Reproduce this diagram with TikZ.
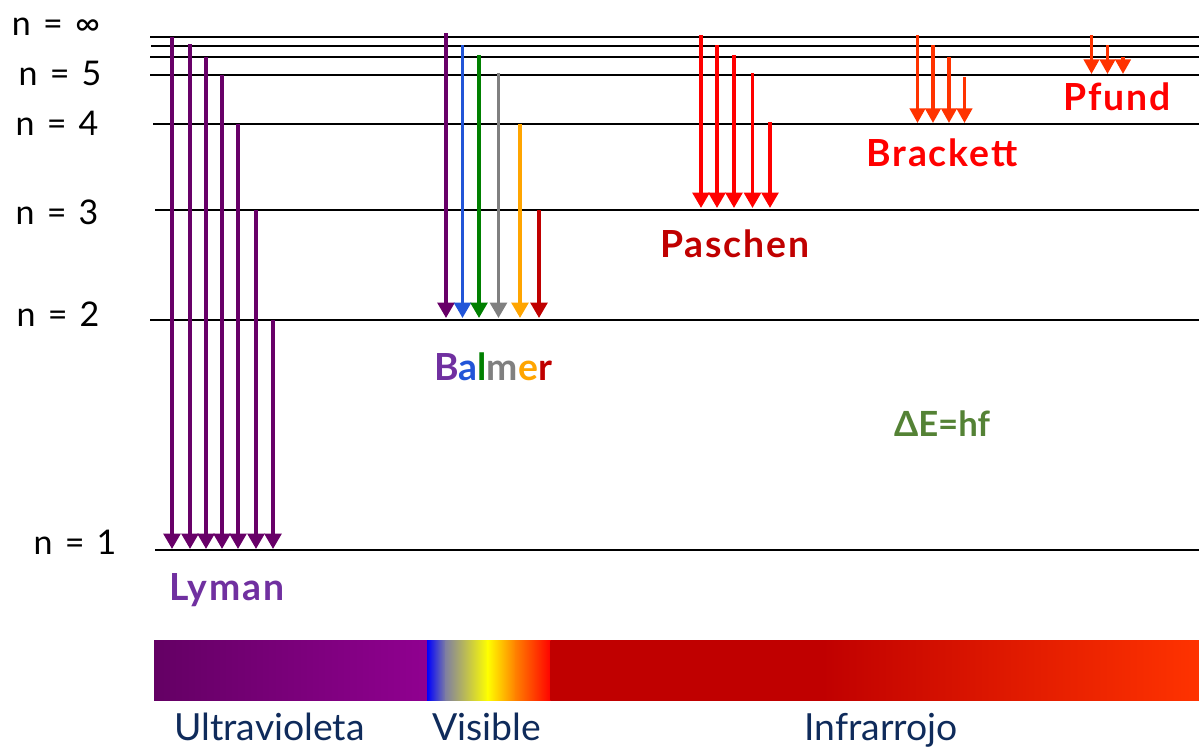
\documentclass[tikz,border=0pt]{standalone}
\usepackage{fontspec}
\setmainfont{Lato}
\usetikzlibrary{arrows.meta}
\definecolor{lym}{HTML}{680068}
\definecolor{lymtxt}{HTML}{7030A0}
\definecolor{bblue}{HTML}{2255D8}
\definecolor{bgreen}{HTML}{008000}
\definecolor{bgray}{HTML}{808080}
\definecolor{borange}{HTML}{FFA500}
\definecolor{bred}{HTML}{C00000}
\definecolor{pas}{HTML}{FF0000}
\definecolor{brk}{HTML}{FF3300}
\definecolor{dEcol}{HTML}{548235}
\definecolor{navy}{HTML}{0F2B5B}
\definecolor{uvA}{HTML}{640064}
\definecolor{uvB}{HTML}{900090}
\definecolor{irA}{HTML}{C00000}
\definecolor{irB}{HTML}{FF3300}
\definecolor{visgray}{HTML}{8080A0}
\pgfdeclarehorizontalshading{irshade}{100bp}{color(0bp)=(irA); color(46bp)=(irA); color(75bp)=(irB); color(100bp)=(irB)}
\newcommand\eqsp{\hspace{0.36em}=\hspace{0.36em}}
\begin{document}
\begin{tikzpicture}[x=0.75pt,y=-0.75pt,
  level/.style={line width=1.5pt, black},
  tr/.style={line width=2.6pt, -{Triangle[width=12.5pt,length=11.5pt]}},
  trs/.style={line width=2.5pt, -{Triangle[width=11.5pt,length=11pt]}},
  lvl/.style={font=\fontsize{25.5}{30}\selectfont, inner sep=0pt, anchor=base},
  ser/.style={font=\fontsize{28}{32}\selectfont\bfseries\addfontfeature{LetterSpace=5}, inner sep=0pt, anchor=base},
  band/.style={font=\fontsize{28}{32}\selectfont, text=navy, inner sep=0pt, anchor=base}]
\useasboundingbox (0,0) rectangle (1199,746);

% energy levels
\draw[level] (150,37) -- (1199,37);
\draw[level] (151,46) -- (1199,46);
\draw[level] (150,57) -- (1199,57);
\draw[level] (150,75) -- (1199,75);
\draw[level] (153,124) -- (1199,124);
\draw[level] (155,210) -- (1199,210);
\draw[level] (150,320) -- (1199,320);
\draw[level] (155,550) -- (1199,550);

% level labels
\node[lvl] (ninf) at (56,35) {n\eqsp ∞};
\node[lvl] (n5) at (60,85) {n\eqsp 5};
\node[lvl] (n4) at (57,135) {n\eqsp 4};
\node[lvl] (n3) at (57,224) {n\eqsp 3};
\node[lvl] (n2) at (58,326) {n\eqsp 2};
\node[lvl] (n1) at (75,554) {n\eqsp 1};

% Lyman
\foreach \x/\y in {172/37,190/44,206/57,222/75,238/124,256/210,273/320}
  \draw[tr,lym] (\x,\y) -- (\x,549);

% Balmer
\draw[tr,lym] (446,33) -- (446,318);
\draw[tr,bblue] (462.5,45) -- (462.5,318);
\draw[tr,bgreen] (479,55) -- (479,318);
\draw[tr,bgray] (498.5,73) -- (498.5,318);
\draw[tr,borange] (520,124) -- (520,318);
\draw[tr,bred] (539,210) -- (539,318);

% Paschen
\foreach \x/\y in {701/35,717/45,734/55,752.5/73,770/122}
  \draw[tr,pas] (\x,\y) -- (\x,208);

% Brackett
\foreach \x/\y in {917.5/35,933/45,949/57,964.5/77}
  \draw[trs,brk] (\x,\y) -- (\x,123);

% Pfund
\foreach \x/\y in {1091.5/35,1107.5/45,1123/57}
  \draw[trs,brk] (\x,\y) -- (\x,74);

% series labels
\node[ser,text=lymtxt] (lyman) at (227,600) {Lyman};
\node[ser] (balmer) at (493,380) {\textcolor{lymtxt}{B}\textcolor{bblue}{a}\textcolor{bgreen}{l}\textcolor{bgray}{m}\textcolor{borange}{e}\textcolor{bred}{r}};
\node[ser,text=bred] (paschen) at (735,257) {Paschen};
\node[ser,text=pas] (brackett) at (942,166) {Brackett};
\node[ser,text=pas] (pfund) at (1117,110) {Pfund};
\node[ser,text=dEcol,font=\fontsize{26}{30}\selectfont\bfseries] (dE) at (942,436) {ΔE=hf};

% spectrum bar
\shade[left color=uvA,right color=uvB] (154,640) rectangle (427.5,700);
\shade[left color=blue,right color=visgray] (427,640) rectangle (446,700);
\shade[left color=visgray,right color=yellow] (445.5,640) rectangle (488,700);
\shade[left color=yellow,right color=orange] (487.5,640) rectangle (516,700);
\shade[left color=orange,right color=red] (515.5,640) rectangle (551,700);
\shade[shading=irshade] (550.5,640) rectangle (1199,700);

% band labels
\node[band] (uv) at (269.5,740) {Ultravioleta};
\node[band] (vis) at (486.5,740) {Visible};
\node[band] (ir) at (881,740) {Infrarrojo};
\end{tikzpicture}
\end{document}
